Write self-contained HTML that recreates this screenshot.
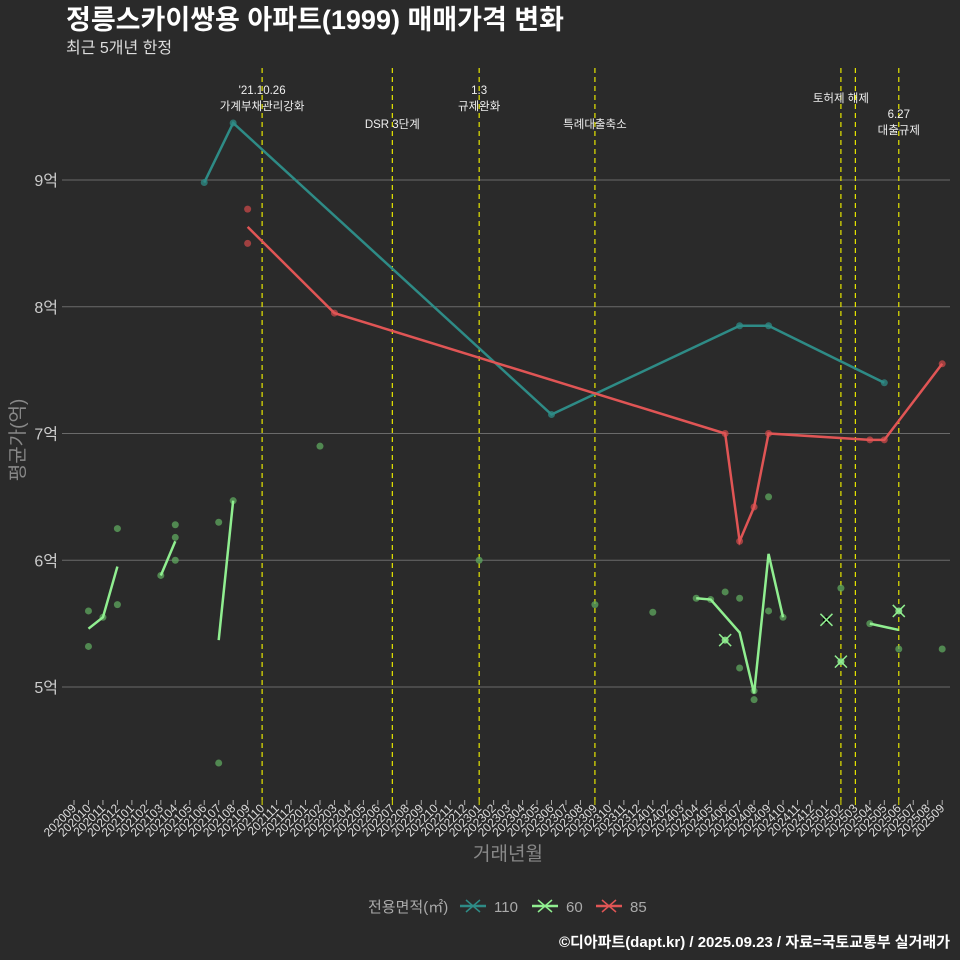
<!DOCTYPE html>
<html><head><meta charset="utf-8"><style>
body{margin:0;background:#2a2a2a;}
svg{display:block;font-family:"Liberation Sans","Noto Sans CJK KR",sans-serif;}
</style></head><body>
<svg id="c" width="960" height="960" viewBox="0 0 960 960">
<rect width="960" height="960" fill="#2a2a2a"/>
<text x="66" y="29" font-size="27" font-weight="bold" fill="#fff">정릉스카이쌍용 아파트(1999) 매매가격 변화</text>
<text x="66" y="53" font-size="16" fill="#ddd">최근 5개년 한정</text>
<g id="grid"></g><g id="vl"></g><g id="marks"></g><g id="xt"></g>
<text x="508" y="860" font-size="19" fill="#888" text-anchor="middle">거래년월</text>
<text transform="translate(24,440) rotate(-90)" font-size="19" fill="#888" text-anchor="middle">평균가(억)</text>
<g>
<text x="368" y="912" font-size="15" fill="#aaa">전용면적(㎡)</text>
<g><line x1="460" y1="906" x2="486" y2="906" stroke="#2e8b86" stroke-width="2.5"/><path d="M466 900l14 12M480 900l-14 12" stroke="#2e8b86" stroke-width="1.5"/><text x="494" y="912" font-size="15" fill="#aaa">110</text></g>
<g><line x1="532" y1="906" x2="558" y2="906" stroke="#90ee90" stroke-width="2.5"/><path d="M538 900l14 12M552 900l-14 12" stroke="#90ee90" stroke-width="1.5"/><text x="566" y="912" font-size="15" fill="#aaa">60</text></g>
<g><line x1="596" y1="906" x2="622" y2="906" stroke="#e05555" stroke-width="2.5"/><path d="M602 900l14 12M616 900l-14 12" stroke="#e05555" stroke-width="1.5"/><text x="630" y="912" font-size="15" fill="#aaa">85</text></g>
</g>
<text x="950" y="947" font-size="15" font-weight="bold" fill="#fff" text-anchor="end">©디아파트(dapt.kr) / 2025.09.23 / 자료=국토교통부 실거래가</text>
</svg>
<script>
const months=[];for(let y=2020,m=9;months.length<61;){months.push(y+String(m).padStart(2,'0'));m++;if(m>12){m=1;y++;}}
const yTicks=[5,6,7,8,9];
const yTickLabels=['5억','6억','7억','8억','9억'];
const events=['202110','202207','202301','202309','202502','202503','202506'];
const eventLabels=[["'21.10.26","가계부채관리강화"],["DSR 3단계"],["1.3","규제완화"],["특례대출축소"],["토허제 해제"],[],["6.27","대출규제"]];
const eventLabelY=[94,128,94,128,102,0,118];
// points
const p60m=['202010','202010','202011','202012','202012','202103','202104','202104','202104','202107','202107','202108','202202','202301','202309','202401','202404','202405','202406','202407','202407','202408','202408','202409','202409','202410','202502','202504','202506','202509'];
const p60v=[5.6,5.32,5.55,6.25,5.65,5.88,6.28,6.18,6.0,6.3,4.4,6.47,6.9,6.0,5.65,5.59,5.7,5.69,5.75,5.7,5.15,4.9,4.97,6.5,5.6,5.55,5.78,5.5,5.3,5.3];
const x60m=['202406','202501','202502','202506'];
const x60v=[5.37,5.53,5.2,5.6];
const l60m=[['202010','202011','202012'],['202103','202104'],['202107','202108'],['202404','202405','202407','202408','202409','202410'],['202504','202506']];
const l60v=[[5.46,5.55,5.95],[5.88,6.15],[5.37,6.47],[5.7,5.69,5.43,4.95,6.05,5.55],[5.5,5.45]];
const t110m=['202106','202108','202306','202407','202409','202505'];
const t110v=[8.98,9.45,7.15,7.85,7.85,7.4];
const p85m=['202109','202109','202203','202406','202407','202408','202409','202504','202505','202509'];
const p85v=[8.77,8.5,7.95,7.0,6.15,6.42,7.0,6.95,6.95,7.55];
const l85m=['202109','202203','202406','202407','202408','202409','202504','202505','202509'];
const l85v=[8.63,7.95,7.0,6.15,6.42,7.0,6.95,6.95,7.55];

const NS='http://www.w3.org/2000/svg';
const X=m=>74+months.indexOf(m)*14.47;
const Y=v=>180+(9-v)*126.75;
function el(tag,attrs,parent,txt){const e=document.createElementNS(NS,tag);for(const k in attrs)e.setAttribute(k,attrs[k]);if(txt!==undefined)e.textContent=txt;document.getElementById(parent).appendChild(e);return e;}
yTicks.forEach((v,i)=>{
 const g=el('line',{x1:62,x2:950,y1:Y(v),y2:Y(v),stroke:'#6a6a6a','stroke-width':1},'grid');
 
 
 const t=el('text',{x:58,y:Y(v)+6,'font-size':16,fill:'#ccc','text-anchor':'end'},'grid',yTickLabels[i]);
 
 
});
events.forEach((m,i)=>{
 const l=el('line',{x1:X(m),x2:X(m),y1:68,y2:800,stroke:'#e6e600','stroke-width':1.2,'stroke-dasharray':'5,4'},'vl');
 
 
 eventLabels[i].forEach((s,j)=>{
  const t=el('text',{x:X(m),y:eventLabelY[i]+j*16,'font-size':11.5,fill:'#eee','text-anchor':'middle'},'vl',s);
  
  
 });
});
months.forEach(m=>{
 const x=X(m);
 const tk=el('line',{x1:x,x2:x,y1:800,y2:805,stroke:events.includes(m)?'#e6e600':'#aaa'},'xt');
 
 
 const t=el('text',{x:x+3,y:809,'font-size':12,fill:'#ddd','text-anchor':'end',transform:`rotate(-45 ${x+3} 809)`},'xt',m);
 
 
});
function dots(ms,vs,c){ms.forEach((m,i)=>{const d=el('circle',{cx:X(m),cy:Y(vs[i]),r:3.5,fill:c,opacity:0.75},'marks');
 
 });}
function line(ms,vs,c){const p=el('polyline',{points:ms.map((m,i)=>X(m)+','+Y(vs[i])).join(' '),fill:'none',stroke:c,'stroke-width':2.5},'marks');
 
 }
dots(p60m,p60v,'#5fa85f');
dots(t110m,t110v,'#2e8b86');
dots(p85m,p85v,'#c84848');
l60m.forEach((ms,i)=>line(ms,l60v[i],'#90ee90'));
line(t110m,t110v,'#2e8b86');
line(l85m,l85v,'#e05555');
x60m.forEach((m,i)=>{const x=X(m),y=Y(x60v[i]);
 const b=el('circle',{cx:x,cy:y,r:3.5,fill:i==1?'#000':'#7fd07f'},'marks');
 
 
 const p=el('path',{d:`M${x-6} ${y-6}L${x+6} ${y+6}M${x+6} ${y-6}L${x-6} ${y+6}`,stroke:'#90ee90','stroke-width':1.5},'marks');
 
 });
</script>
</body></html>
